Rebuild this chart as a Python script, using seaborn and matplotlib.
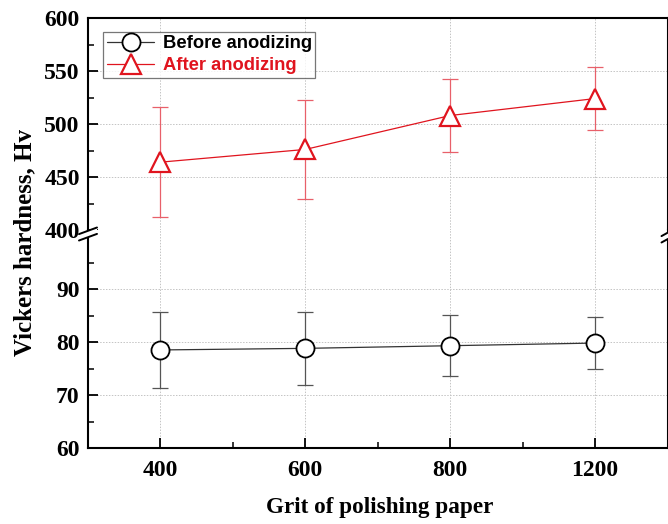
import matplotlib
matplotlib.use("Agg")
import matplotlib.pyplot as plt
from matplotlib.lines import Line2D
from matplotlib.patches import Polygon
from matplotlib.ticker import MultipleLocator, FixedLocator
import seaborn as sns
import pandas as pd

# Data: Vickers hardness vs. polishing-paper grit
grits = ["400", "600", "800", "1200"]
before_mean = [78.5, 78.8, 79.3, 79.8]
before_err = [7.2, 6.9, 5.75, 4.85]
after_mean = [464, 476, 508, 524]
after_err = [52, 47, 34.5, 29.5]

sns.set_theme(style="white")
plt.rcParams["font.family"] = ["Liberation Serif", "DejaVu Serif"]
plt.rcParams.update({"text.color": "black", "axes.labelcolor": "black",
                     "xtick.color": "black", "ytick.color": "black"})

W, H = 668, 524
fig = plt.figure(figsize=(W / 100, H / 100), dpi=100)

def fx(px):
    return px / W

def fy(py):
    return 1 - py / H

left, right = 88, 667.5
top, split, bottom = 18, 230, 448
ax_top = fig.add_axes([fx(left), fy(split), fx(right - left), fy(top) - fy(split)])
ax_bot = fig.add_axes([fx(left), fy(bottom), fx(right - left), fy(split) - fy(bottom)])

pos = list(range(1, len(grits) + 1))
df_before = pd.DataFrame({"pos": pos, "hv": before_mean})
df_after = pd.DataFrame({"pos": pos, "hv": after_mean})

red = "#e0141e"
red_err = "#e8606a"

ax_bot.errorbar(pos, before_mean, yerr=before_err, fmt="none", ecolor="#555555",
                elinewidth=0.9, capsize=6, capthick=0.9, zorder=3)
sns.lineplot(data=df_before, x="pos", y="hv", ax=ax_bot, color="#333333", lw=0.9,
             marker="o", markersize=13, markerfacecolor="white",
             markeredgecolor="black", markeredgewidth=1.3, zorder=4)

ax_top.errorbar(pos, after_mean, yerr=after_err, fmt="none", ecolor=red_err,
                elinewidth=0.9, capsize=6, capthick=0.9, zorder=3)
sns.lineplot(data=df_after, x="pos", y="hv", ax=ax_top, color=red, lw=0.9,
             marker="^", markersize=15, markerfacecolor="white",
             markeredgecolor=red, markeredgewidth=1.6, zorder=4)

ax_top.set_ylim(400, 600)
ax_bot.set_ylim(60, 60 + (bottom - split) / 53 * 10)
for ax in (ax_top, ax_bot):
    ax.set_xlim(0.5, 4.5)
    ax.set_xlabel("")
    ax.set_ylabel("")
    ax.xaxis.set_major_locator(FixedLocator(pos))
    ax.xaxis.set_minor_locator(FixedLocator([1.5, 2.5, 3.5]))
    ax.grid(True, which="major", color="#c4c4c4", ls=(0, (1.5, 1.5)), lw=0.7)
    ax.tick_params(which="both", direction="in", left=True, bottom=True,
                   top=False, right=False, colors="black")
    ax.tick_params(which="major", length=7, width=1.3, labelsize=17)
    ax.tick_params(axis="y", which="major", pad=6)
    ax.tick_params(axis="x", which="major", pad=9)
    ax.tick_params(which="minor", length=4, width=1.1)
    for s in ax.spines.values():
        s.set_color("black")
        s.set_linewidth(1.5)

ax_top.yaxis.set_minor_locator(MultipleLocator(25))
ax_top.spines["bottom"].set_visible(False)
ax_top.tick_params(axis="x", which="both", bottom=False, labelbottom=False)
ax_top.set_yticks([400, 450, 500, 550, 600])
ax_top.set_yticklabels(["400", "450", "500", "550", "600"], fontweight="bold")

ax_bot.set_yticks([60, 70, 80, 90])
ax_bot.yaxis.set_minor_locator(FixedLocator([65, 75, 85, 95]))
ax_bot.set_yticklabels(["60", "70", "80", "90"], fontweight="bold")
ax_bot.spines["top"].set_visible(False)
ax_bot.set_xticks(pos)
ax_bot.set_xticklabels(grits, fontweight="bold")

# Axis-break marks on the left and right spines
def break_mark(xc, yc, half=9):
    gap = 3.2
    dx, dy = half, 3.3
    poly = [(xc - dx, yc + gap + dy), (xc + dx, yc + gap - dy),
            (xc + dx, yc - gap - dy), (xc - dx, yc - gap + dy)]
    fig.patches.append(Polygon([(fx(a), fy(b)) for a, b in poly], closed=True,
                               transform=fig.transFigure, facecolor="white",
                               edgecolor="none", zorder=10))
    for off in (-gap, gap):
        fig.lines.append(Line2D([fx(xc - dx), fx(xc + dx)],
                                [fy(yc + off + dy), fy(yc + off - dy)],
                                transform=fig.transFigure, color="black",
                                lw=1.4, zorder=11))

break_mark(left, 234)
break_mark(right, 236, half=6)

# Legend
handles = [
    Line2D([], [], color="#333333", lw=0.9, marker="o", markersize=13,
           markerfacecolor="white", markeredgecolor="black", markeredgewidth=1.3),
    Line2D([], [], color=red, lw=0.9, marker="^", markersize=15,
           markerfacecolor="white", markeredgecolor=red, markeredgewidth=1.6),
]
leg = ax_top.legend(handles, ["Before anodizing", "After anodizing"],
                    loc="upper left", bbox_to_anchor=(0.026, 0.935),
                    frameon=True, fancybox=False, edgecolor="#555555",
                    handlelength=2.6, handletextpad=0.45, borderpad=0.2,
                    labelspacing=0.25, borderaxespad=0,
                    prop={"family": "Liberation Sans", "weight": "bold", "size": 13.2})
leg.get_frame().set_linewidth(0.9)
leg.get_texts()[0].set_color("black")
leg.get_texts()[1].set_color(red)

fig.text(fx(25), fy(242), "Vickers hardness, Hv", rotation=90, ha="center",
         va="center", fontsize=18, fontweight="bold", color="black")
fig.text(fx(380), fy(507), "Grit of polishing paper", ha="center", va="center",
         fontsize=16.7, fontweight="bold", color="black")

fig.savefig("out.png", dpi=100, facecolor="white")
